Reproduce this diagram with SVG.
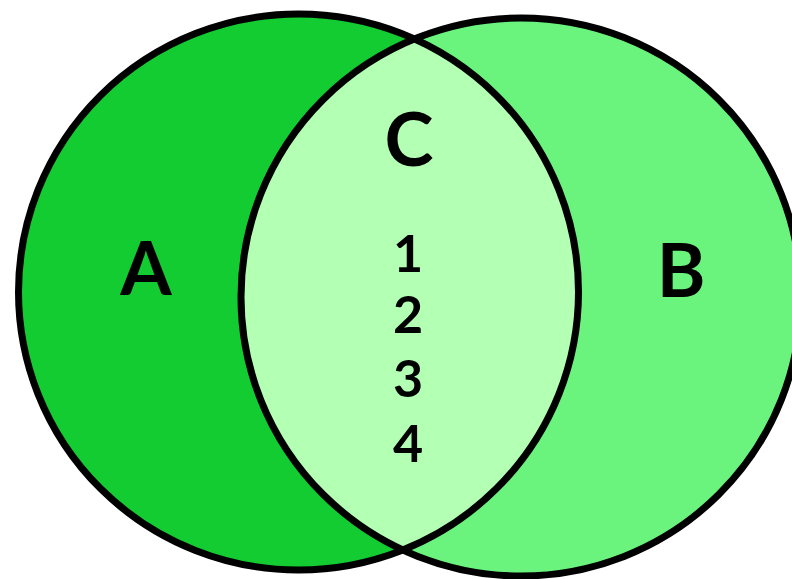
<svg xmlns="http://www.w3.org/2000/svg" width="792" height="579" viewBox="0 0 792 579">
  <style>
    .lbl { font-family: Lato, "Open Sans", "Liberation Sans", sans-serif; font-weight: bold; fill: #000; text-anchor: middle; }
    .big { font-size: 74px; }
    .num { font-size: 52px; }
    .edge { fill: none; stroke: #000; stroke-width: 7; }
  </style>
  <defs>
    <clipPath id="clipA">
      <ellipse cx="298.5" cy="292" rx="280" ry="278"/>
    </clipPath>
  </defs>
  <rect width="792" height="579" fill="#ffffff"/>
  <g id="A">
    <ellipse cx="298.5" cy="292" rx="280" ry="278" fill="#12cc31"/>
  </g>
  <g id="B">
    <ellipse cx="521" cy="297" rx="280" ry="279" fill="#6af47e"/>
  </g>
  <g id="C">
    <ellipse cx="521" cy="297" rx="280" ry="279" fill="#b3ffb3" clip-path="url(#clipA)"/>
  </g>
  <g id="outlines">
    <ellipse class="edge" cx="298.5" cy="292" rx="280" ry="278"/>
    <ellipse class="edge" cx="521" cy="297" rx="280" ry="279"/>
  </g>
  <g id="labels">
    <text class="lbl big" x="146" y="295">A</text>
    <text class="lbl big" x="681" y="297">B</text>
    <text class="lbl big" x="409" y="166">C</text>
    <text class="lbl num" x="408" y="272">1</text>
    <text class="lbl num" x="408" y="333">2</text>
    <text class="lbl num" x="408" y="397">3</text>
    <text class="lbl num" x="408" y="462">4</text>
  </g>
</svg>
